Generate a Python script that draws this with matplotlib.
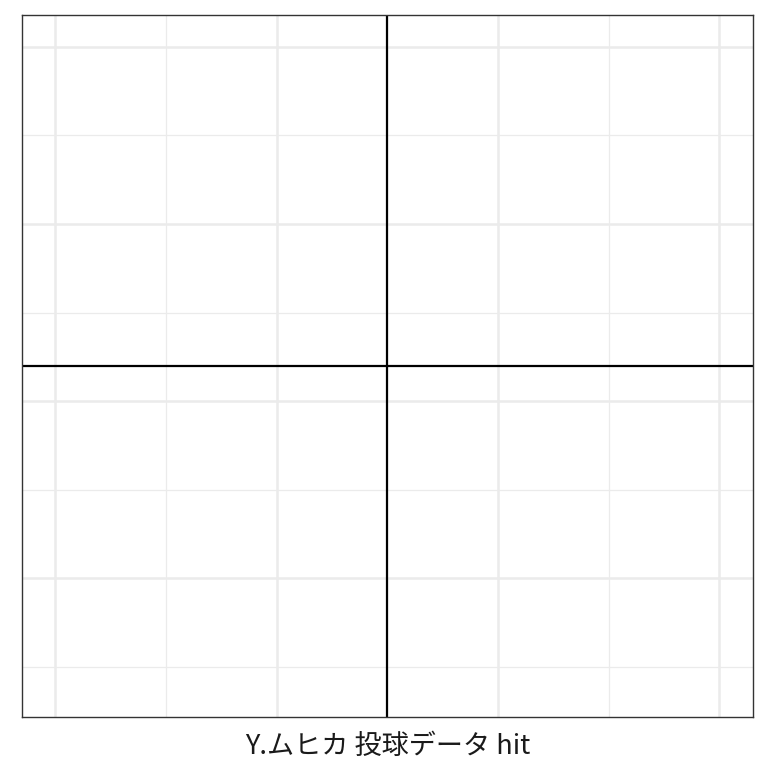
import matplotlib.pyplot as plt

plt.rcParams['font.family'] = ['Noto Sans CJK JP', 'DejaVu Sans']

# 軸の範囲と目盛り（ラベルなし）
x_lim = [-1.65, 1.65]
y_lim = [0.22, 4.18]
x_major = [-1.5, -0.5, 0.5, 1.5]
x_minor = [-1.0, 0.0, 1.0]
y_major = [1, 2, 3, 4]
y_minor = [0.5, 1.5, 2.5, 3.5]

# 基準線
v_ref = [0.0]
h_ref = [2.2]

titulo = 'Y.ムヒカ 投球データ hit'

fig = plt.figure(figsize=(7.68, 7.68), dpi=100)
ax = fig.add_axes([0.0286, 0.0668, 0.9514, 0.9137])

ax.set_xlim(x_lim)
ax.set_ylim(y_lim)
ax.set_xticks(x_major)
ax.set_xticks(x_minor, minor=True)
ax.set_yticks(y_major)
ax.set_yticks(y_minor, minor=True)
ax.tick_params(which='both', length=0, labelbottom=False, labelleft=False)

ax.grid(which='major', color='#EBEBEB', linewidth=1.8)
ax.grid(which='minor', color='#EBEBEB', linewidth=0.9)
ax.set_axisbelow(True)

for v in v_ref:
    ax.axvline(v, color='black', linewidth=1.6)
for h in h_ref:
    ax.axhline(h, color='black', linewidth=1.6)

for s in ax.spines.values():
    s.set_color('#333333')
    s.set_linewidth(1.0)

ax.set_xlabel(titulo, fontsize=19.5, color='#1a1a1a', labelpad=12)

fig.savefig('out.png', dpi=100)
